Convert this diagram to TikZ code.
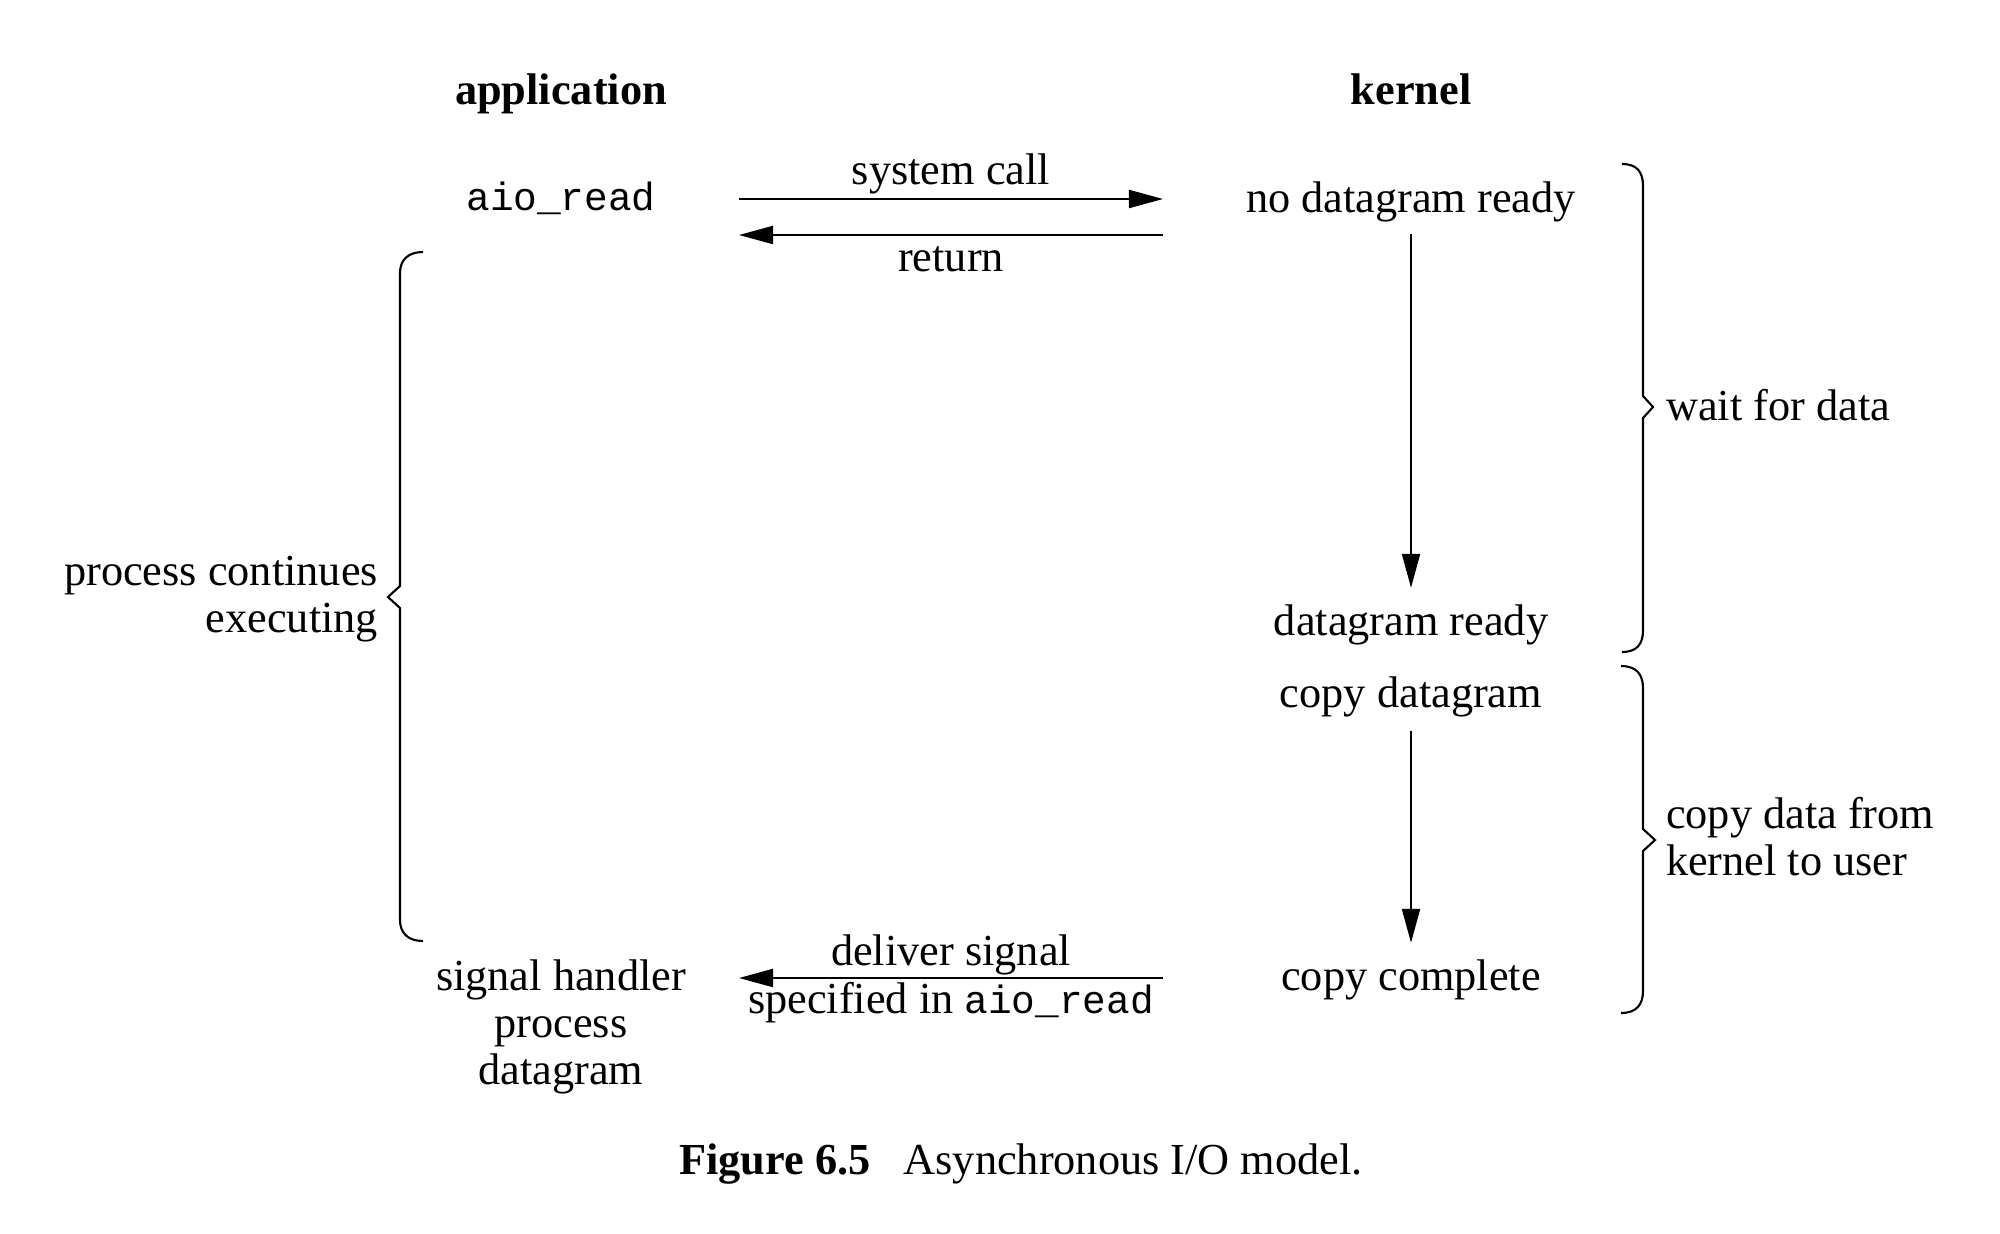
\documentclass[tikz,border=0pt]{standalone}
\usepackage{fontspec}
\setmainfont{Liberation Serif}
\setmonofont[Scale=0.89]{Liberation Mono}
\usepackage{tikz}
\usetikzlibrary{arrows.meta}

\begin{document}
\begin{tikzpicture}[
            x = 0.01cm, y = -0.01cm, % one unit is one pixel, y runs down
            > = {Triangle[length=3.4mm,width=1.8mm]}, % arrow head style
            line width = 0.6pt,
            every node/.style = {font=\fontsize{12.6}{13.4}\selectfont, inner sep=0pt},
            head/.style = {font=\fontsize{12.6}{13.4}\selectfont\bfseries},
            brace/.style = {line width=0.6pt}
        ]
\useasboundingbox (0,0) rectangle (2000,1233);

\node[head] (app) at (561,94) {application};
\node[head] (kern) at (1411,89) {kernel};
\node (aio) at (561,198) {\texttt{aio\_read}};
\node (nodg) at (1411,202) {no datagram ready};
\node (dgr) at (1411,625) {datagram ready};
\node (cpdg) at (1411,697) {copy datagram};
\node (cpcm) at (1411,980) {copy complete};
\node[align=center] (sigh) at (561,1027) {signal handler\\process\\datagram};
\node[align=right, anchor=east] (cont) at (379,599) {process continues\\executing};
\node[anchor=west] (wait) at (1665,405) {wait for data};
\node[align=left, anchor=west] (cpdata) at (1665,837) {copy data from\\kernel to user};
\node (cap) at (1021,1164) {\textbf{Figure 6.5}\hspace{0.75em}Asynchronous I/O model.};

\coordinate (sc-a) at (739,199);
\coordinate (sc-b) at (1163,199);
\coordinate (rt-a) at (1163,235);
\coordinate (rt-b) at (739,235);
\coordinate (ds-a) at (1163,978);
\coordinate (ds-b) at (739,978);

 \draw [->] (sc-a) -- node[above=1pt] {system call} (sc-b);
 \draw [->] (rt-a) -- node[below=3pt] {return} (rt-b);
 \draw [->] (ds-a) -- node[above=0.5pt] {deliver signal}
                      node[below=1pt] {specified in \texttt{aio\_read}} (ds-b);
 \draw [->, shorten <=0.11cm, shorten >=0.16cm] (nodg) -- (dgr);
 \draw [->, shorten <=0.13cm, shorten >=0.16cm] (cpdg) -- (cpcm);

% braces
 \draw [brace] (423,252) .. controls (408,252) and (400,260) .. (400,273)
     -- (400,586) -- (388,597) -- (400,608) -- (400,920)
     .. controls (400,933) and (408,941) .. (423,941);
 \draw [brace] (1622,164) .. controls (1637,164) and (1643,172) .. (1643,186)
     -- (1643,396) -- (1653,407) -- (1643,418) -- (1643,630)
     .. controls (1643,644) and (1637,652) .. (1622,652);
 \draw [brace] (1621,666) .. controls (1636,666) and (1643,674) .. (1643,688)
     -- (1643,829) -- (1655,840) -- (1643,851) -- (1643,991)
     .. controls (1643,1005) and (1636,1013) .. (1621,1013);
\end{tikzpicture}
\end{document}
